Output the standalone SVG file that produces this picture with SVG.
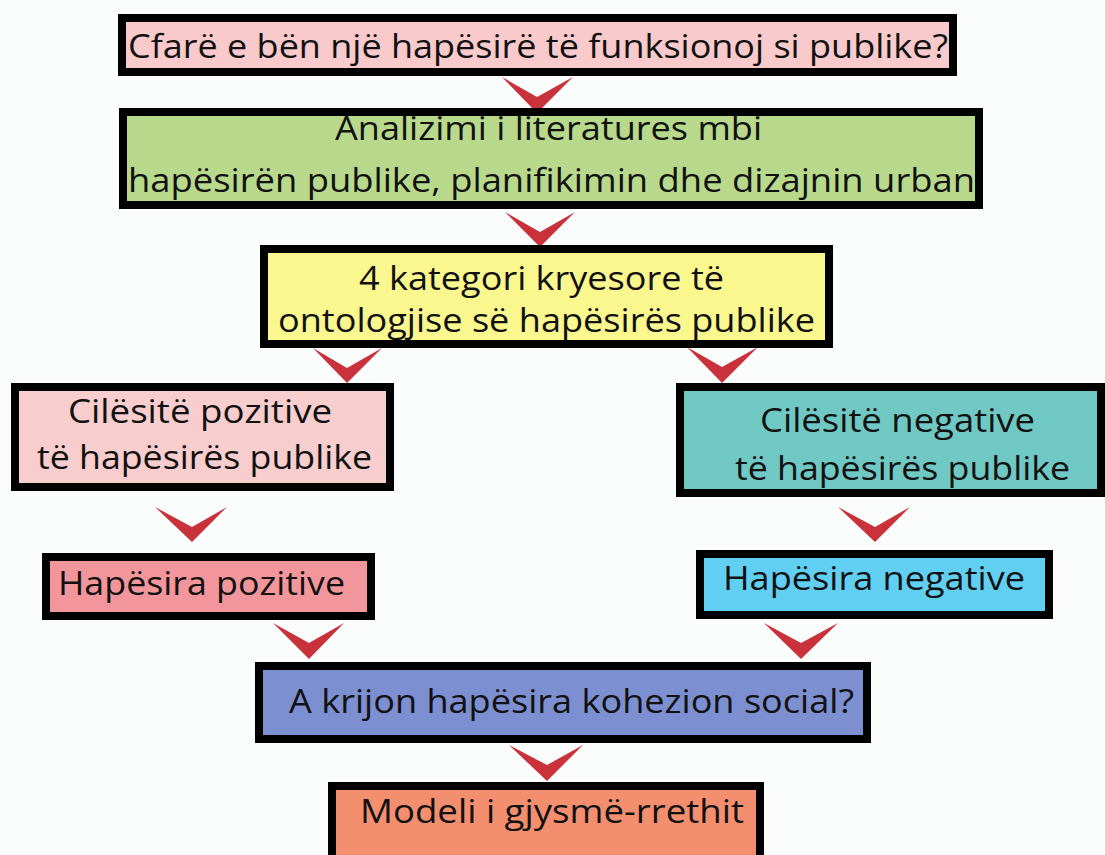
<svg xmlns="http://www.w3.org/2000/svg" width="1105" height="855" viewBox="0 0 1105 855">
<style>
.box{stroke:#000;stroke-width:8}
.t{font-family:"Open Sans","Noto Sans","Liberation Sans",sans-serif;font-size:33px;fill:#111}
.arr{fill:#c9323b}
</style>
<rect width="1105" height="855" fill="#fbfcfc"/>
<g id="connectors">
<polygon class="arr" points="502,77 537,113 573,77 537,97"/>
<polygon class="arr" points="505,212 540,247 575,212 540,232"/>
<polygon class="arr" points="313,348 347,383 382,348 347,368"/>
<polygon class="arr" points="687,347 722,383 758,347 722,367"/>
<polygon class="arr" points="155,507 192,542 227,507 192,527"/>
<polygon class="arr" points="838,507 875,542 910,507 875,527"/>
<polygon class="arr" points="273,623 309,659 344,623 309,643"/>
<polygon class="arr" points="764,623 801,659 838,623 801,643"/>
<polygon class="arr" points="509,745 547,781 583,745 547,765"/>
</g>
<g id="n1">
<rect class="box" x="122" y="18" width="831" height="54" fill="#f9cacb"/>
<text class="t" x="128" y="58" font-size="35" textLength="820" lengthAdjust="spacingAndGlyphs">Cfarë e bën një hapësirë të funksionoj si publike?</text>
</g>
<g id="n2">
<rect class="box" x="123" y="112" width="856" height="93" fill="#b8d98c"/>
<text class="t" x="335" y="140" textLength="427" lengthAdjust="spacingAndGlyphs">Analizimi i literatures mbi</text>
<text class="t" x="128" y="192" textLength="847" lengthAdjust="spacingAndGlyphs">hapësirën publike, planifikimin dhe dizajnin urban</text>
</g>
<g id="n3">
<rect class="box" x="264" y="249" width="565" height="95" fill="#fbf78f"/>
<text class="t" x="359" y="290" font-size="32" textLength="365" lengthAdjust="spacingAndGlyphs">4 kategori kryesore të</text>
<text class="t" x="278" y="332" font-size="32" textLength="537" lengthAdjust="spacingAndGlyphs">ontologjise së hapësirës publike</text>
</g>
<g id="n4">
<rect class="box" x="15" y="387" width="375" height="100" fill="#f8cdcd"/>
<text class="t" x="68" y="423" textLength="264" lengthAdjust="spacingAndGlyphs">Cilësitë pozitive</text>
<text class="t" x="37" y="469" textLength="335" lengthAdjust="spacingAndGlyphs">të hapësirës publike</text>
</g>
<g id="n5">
<rect class="box" x="680" y="387" width="421" height="106" fill="#6fc8c3"/>
<text class="t" x="760" y="432" textLength="275" lengthAdjust="spacingAndGlyphs">Cilësitë negative</text>
<text class="t" x="735" y="480" textLength="335" lengthAdjust="spacingAndGlyphs">të hapësirës publike</text>
</g>
<g id="n6">
<rect class="box" x="46" y="557" width="325" height="59" fill="#f3969b"/>
<text class="t" x="58" y="595" textLength="287" lengthAdjust="spacingAndGlyphs">Hapësira pozitive</text>
</g>
<g id="n7">
<rect class="box" x="700" y="554" width="349" height="61" fill="#60cff2"/>
<text class="t" x="723" y="590" textLength="302" lengthAdjust="spacingAndGlyphs">Hapësira negative</text>
</g>
<g id="n8">
<rect class="box" x="259" y="666" width="608" height="73" fill="#7c8fd1"/>
<text class="t" x="289" y="713" textLength="565" lengthAdjust="spacingAndGlyphs">A krijon hapësira kohezion social?</text>
</g>
<g id="n9">
<rect class="box" x="332" y="786" width="428" height="80" fill="#f38f6f"/>
<text class="t" x="360" y="823" textLength="384" lengthAdjust="spacingAndGlyphs">Modeli i gjysmë-rrethit</text>
</g>
</svg>
